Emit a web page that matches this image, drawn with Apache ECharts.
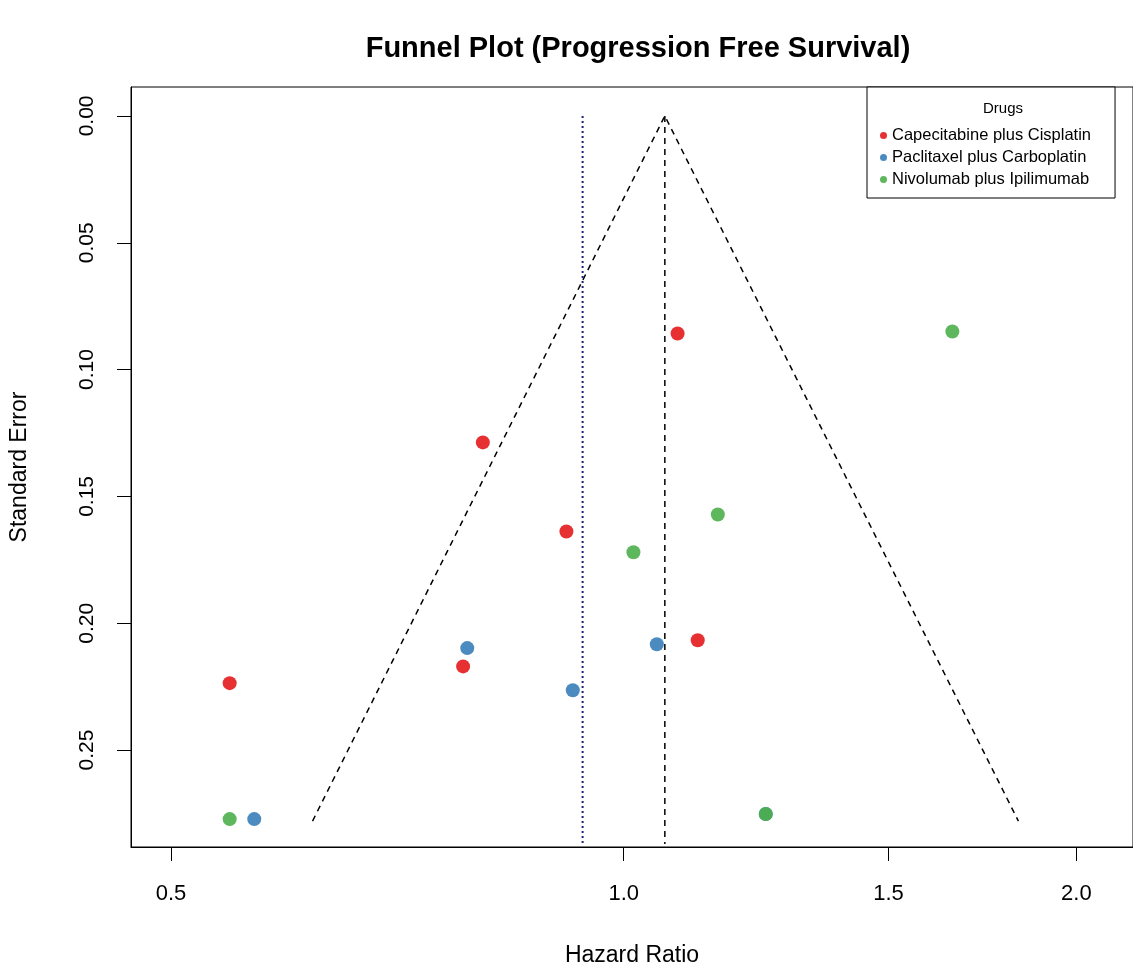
<!DOCTYPE html>
<html>
<head>
<meta charset="utf-8">
<title>Funnel Plot</title>
<script src="https://cdn.jsdelivr.net/npm/echarts@6/dist/echarts.min.js"></script>
<style>
  html, body { margin: 0; padding: 0; background: #fff; }
  #chart { width: 1133px; height: 972px; }
</style>
</head>
<body>
<div id="chart"></div>
<script>
// --- data ---
const drugNames = ['Capecitabine plus Cisplatin', 'Paclitaxel plus Carboplatin', 'Nivolumab plus Ipilimumab'];
const drugColors = ['#E41A1C', '#377EB8', '#4DAF4A'];

// hazard ratio / standard error per study
const capeHR = [1.086, 0.806, 0.916, 1.120, 0.782, 0.547];
const capeSE = [0.0858, 0.1287, 0.1638, 0.2067, 0.2170, 0.2236];
const pacliHR = [0.787, 1.052, 0.925, 0.568, 1.243];
const pacliSE = [0.2098, 0.2083, 0.2264, 0.2772, 0.2752];
const nivoHR = [1.654, 1.155, 1.015, 0.547, 1.243];
const nivoSE = [0.0850, 0.1571, 0.1720, 0.2772, 0.2752];

// funnel outline (lower, apex, upper) and reference lines
const funnelHR = [0.621, 1.065, 1.83];
const funnelSE = [0.278, 0.0, 0.278];
const pooledHR = 1.065;
const meanHR = 0.939;
const refLineSE = [0.0, 0.287];

// axes
const xTicks = [0.5, 1.0, 1.5, 2.0];
const yTicks = [0.00, 0.05, 0.10, 0.15, 0.20, 0.25];
const xRange = [0.4703, 2.181];
const yRange = [-0.0114, 0.2882];

// log scale for the hazard ratio
const lx = v => Math.log(v);
const toPoints = (hr, se) => hr.map((h, i) => [lx(h), se[i]]);

const chart = echarts.init(document.getElementById('chart'));
const font = 'Liberation Sans, Arial, sans-serif';

const drugSeries = [[capeHR, capeSE], [pacliHR, pacliSE], [nivoHR, nivoSE]].map((d, i) => ({
    name: drugNames[i],
    type: 'scatter',
    data: toPoints(d[0], d[1]),
    symbolSize: 14,
    itemStyle: { color: drugColors[i], opacity: 0.9 },
    z: 5
}));

chart.setOption({
    animation: false,
    textStyle: { fontFamily: font },
    title: [
        {
            text: 'Funnel Plot (Progression Free Survival)',
            left: 633, top: 29, textAlign: 'center',
            textStyle: { fontSize: 29, fontWeight: 'bold', color: '#000', fontFamily: font }
        },
        {
            text: 'Drugs',
            left: 998, top: 96, textAlign: 'center',
            textStyle: { fontSize: 15, fontWeight: 'normal', color: '#000', fontFamily: font }
        }
    ],
    legend: {
        data: drugNames,
        orient: 'vertical',
        left: 867, top: 87,
        padding: [40, 24, 10, 13],
        borderColor: '#000', borderWidth: 1,
        backgroundColor: '#fff',
        icon: 'circle', itemWidth: 7, itemHeight: 7,
        itemGap: 5, itemTextGap: 15,
        textStyle: { fontSize: 16.5, color: '#000', fontFamily: font }
    },
    grid: {
        left: 130, top: 87, right: 0, bottom: 125,
        show: true, borderColor: '#000', borderWidth: 1
    },
    xAxis: {
        type: 'value',
        min: lx(xRange[0]), max: lx(xRange[1]),
        name: 'Hazard Ratio', nameLocation: 'middle', nameGap: 97,
        nameTextStyle: { fontSize: 23, color: '#000', fontFamily: font },
        axisLine: { show: true, onZero: false, lineStyle: { color: '#000' } },
        axisTick: { show: true, length: 14, lineStyle: { color: '#000' }, customValues: xTicks.map(lx) },
        axisLabel: {
            customValues: xTicks.map(lx), margin: 36, fontSize: 22, color: '#000',
            formatter: v => Math.exp(v).toFixed(1)
        },
        splitLine: { show: false }
    },
    yAxis: {
        type: 'value', inverse: true,
        min: yRange[0], max: yRange[1],
        name: 'Standard Error', nameLocation: 'middle', nameGap: 100,
        nameTextStyle: { fontSize: 23, color: '#000', fontFamily: font },
        axisLine: { show: true, onZero: false, lineStyle: { color: '#000' } },
        axisTick: { show: true, length: 14, lineStyle: { color: '#000' }, customValues: yTicks },
        axisLabel: {
            customValues: yTicks, margin: 33, fontSize: 21, color: '#000', rotate: 90,
            formatter: v => v.toFixed(2)
        },
        splitLine: { show: false }
    },
    series: [
        {
            name: 'funnel', type: 'line',
            data: toPoints(funnelHR, funnelSE),
            symbol: 'none',
            lineStyle: { color: '#000', width: 1.5, type: [6, 5] },
            z: 2
        },
        {
            name: 'pooled', type: 'line',
            data: refLineSE.map(s => [lx(pooledHR), s]),
            symbol: 'none',
            lineStyle: { color: '#000', width: 1.5, type: [6, 5] },
            z: 2
        },
        {
            name: 'mean', type: 'line',
            data: refLineSE.map(s => [lx(meanHR), s]),
            symbol: 'none',
            lineStyle: { color: '#1a237e', width: 2, type: [2, 3] },
            z: 2
        },
        ...drugSeries
    ]
});
</script>
</body>
</html>
